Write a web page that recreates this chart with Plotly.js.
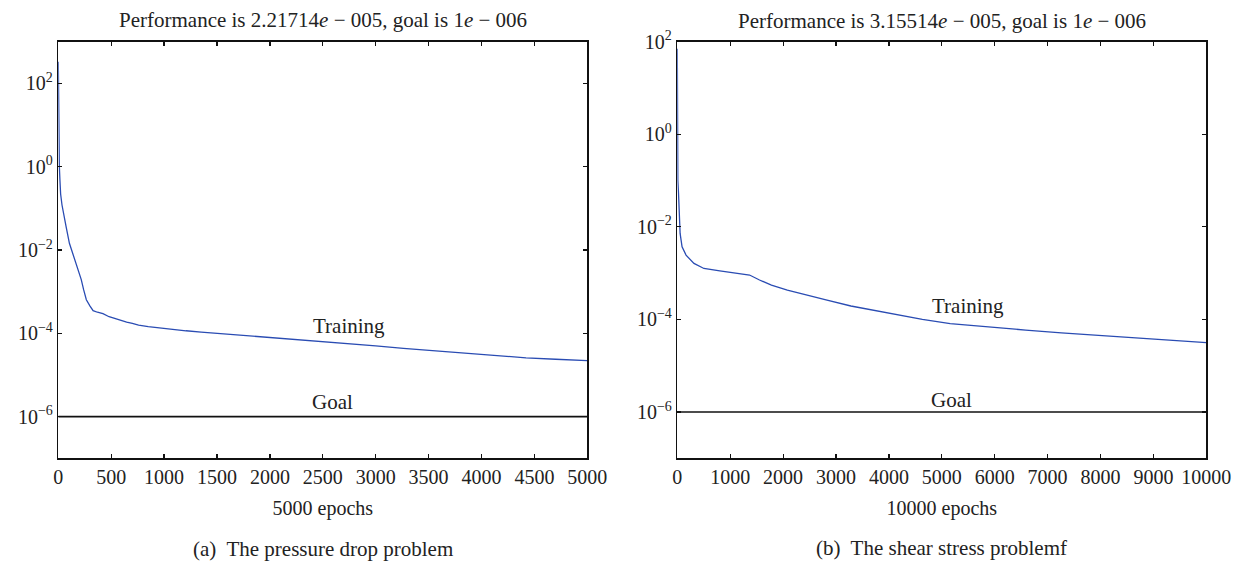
<!DOCTYPE html>
<html>
<head>
<meta charset="utf-8">
<script src="https://cdn.plot.ly/plotly-3.0.1.min.js"></script>
<style>html,body{margin:0;padding:0;background:#fff;}#chart{width:1243px;height:561px;}</style>
</head>
<body>
<div id="chart"></div>
<script>
// Panel (a): pressure drop problem
const epochsA = [0, 1, 3, 6, 10, 15, 22, 35, 49, 75, 105, 135, 161, 190, 217, 240, 265, 300, 329, 370, 422, 480, 534, 600, 646, 700, 759, 850, 983, 1100, 1207, 1350, 1506, 1805, 2067, 2403, 2664, 3000, 3262, 3561, 3860, 4122, 4421, 4700, 5000];
const perfA = [330, 60, 10, 3, 1, 0.5, 0.22, 0.12, 0.074, 0.035, 0.0145, 0.0085, 0.0058, 0.0033, 0.00195, 0.0011, 0.00064, 0.00045, 0.00035, 0.00032, 0.000295, 0.00025, 0.000224, 0.0002, 0.000186, 0.000172, 0.000158, 0.000145, 0.000132, 0.000122, 0.000115, 0.000107, 0.0001, 0.0000871, 0.0000759, 0.0000661, 0.0000603, 0.0000501, 0.0000437, 0.000038, 0.0000339, 0.0000288, 0.0000257, 0.0000238, 0.0000221714];
// Panel (b): shear stress problem
const epochsB = [0, 1, 2, 5, 10, 23, 38, 53, 90, 165, 315, 503, 803, 1104, 1366, 1554, 1779, 2080, 2455, 2830, 3281, 3731, 4182, 4632, 5158, 5833, 6584, 7260, 7935, 8611, 9362, 10000];
const perfB = [70, 5, 0.74, 0.2, 0.1, 0.052, 0.0138, 0.0072, 0.0037, 0.00245, 0.00162, 0.00126, 0.00112, 0.00102, 0.00091, 0.00071, 0.00055, 0.00043, 0.00034, 0.00026, 0.000195, 0.000155, 0.000123, 0.0001, 0.0000813, 0.0000692, 0.0000589, 0.0000513, 0.0000457, 0.0000407, 0.0000362, 0.0000315514];
const goal = 1e-6;
const maxEpochA = 5000, maxEpochB = 10000;
const yTickVals = [1e-6, 1e-4, 1e-2, 1, 1e2];
const yTickText = ['10<sup>−6</sup>', '10<sup>−4</sup>', '10<sup>−2</sup>', '10<sup>0</sup>', '10<sup>2</sup>'];
const titleA = 'Performance is 2.21714<i>e</i> − 005, goal is 1<i>e</i> − 006';
const titleB = 'Performance is 3.15514<i>e</i> − 005, goal is 1<i>e</i> − 006';
const xTitleA = '5000 epochs', xTitleB = '10000 epochs';
const captionA = '(a)  The pressure drop problem', captionB = '(b)  The shear stress problemf';

const FONT = 'Liberation Serif, Times New Roman, serif';
const BLUE = '#2a4cb3';
const TXT = '#222';

const traces = [
  {x: epochsA, y: perfA, xaxis: 'x', yaxis: 'y', mode: 'lines', line: {color: BLUE, width: 1.3}, hoverinfo: 'skip'},
  {x: [0, maxEpochA], y: [goal, goal], xaxis: 'x', yaxis: 'y', mode: 'lines', line: {color: '#111', width: 1.6}, hoverinfo: 'skip'},
  {x: epochsB, y: perfB, xaxis: 'x2', yaxis: 'y2', mode: 'lines', line: {color: BLUE, width: 1.3}, hoverinfo: 'skip'},
  {x: [0, maxEpochB], y: [goal, goal], xaxis: 'x2', yaxis: 'y2', mode: 'lines', line: {color: '#111', width: 1.6}, hoverinfo: 'skip'}
];

const axisCommon = {
  showgrid: false, zeroline: false, showline: true, linecolor: '#111', linewidth: 1.5,
  mirror: 'ticks', ticks: 'inside', ticklen: 4, tickwidth: 1.2, tickcolor: '#111',
  tickfont: {family: FONT, size: 20, color: TXT}
};
const yDom = [0.1831, 0.9257];

const layout = {
  width: 1243, height: 561,
  margin: {l: 0, r: 0, t: 0, b: 0},
  paper_bgcolor: '#fff', plot_bgcolor: '#fff',
  showlegend: false,
  font: {family: FONT, size: 20, color: TXT},
  xaxis: Object.assign({}, axisCommon, {domain: [0.0469, 0.4725], range: [0, maxEpochA], dtick: 500, tick0: 0, tickformat: 'd', anchor: 'y',
    title: {text: xTitleA, font: {family: FONT, size: 20, color: TXT}, standoff: 14}}),
  yaxis: Object.assign({}, axisCommon, {domain: yDom, type: 'log', range: [-7, 3], tickmode: 'array', tickvals: yTickVals, ticktext: yTickText, anchor: 'x'}),
  xaxis2: Object.assign({}, axisCommon, {domain: [0.5449, 0.9705], range: [0, maxEpochB], dtick: 1000, tick0: 0, tickformat: 'd', anchor: 'y2',
    title: {text: xTitleB, font: {family: FONT, size: 20, color: TXT}, standoff: 14}}),
  yaxis2: Object.assign({}, axisCommon, {domain: yDom, type: 'log', range: [-7, 2], tickmode: 'array', tickvals: yTickVals, ticktext: yTickText, anchor: 'x2'}),
  annotations: [
    {text: titleA, xref: 'paper', yref: 'paper', x: 0.2597, y: (561 - 20) / 561, xanchor: 'center', yanchor: 'middle', showarrow: false, font: {family: FONT, size: 21, color: TXT}},
    {text: titleB, xref: 'paper', yref: 'paper', x: 0.7577, y: (561 - 21) / 561, xanchor: 'center', yanchor: 'middle', showarrow: false, font: {family: FONT, size: 21, color: TXT}},
    {text: 'Training', xref: 'x', yref: 'y', x: 2747, y: -3.82, showarrow: false, font: {family: FONT, size: 21, color: TXT}},
    {text: 'Goal', xref: 'x', yref: 'y', x: 2590, y: -5.66, showarrow: false, font: {family: FONT, size: 21, color: TXT}},
    {text: 'Training', xref: 'x2', yref: 'y2', x: 5495, y: -3.71, showarrow: false, font: {family: FONT, size: 21, color: TXT}},
    {text: 'Goal', xref: 'x2', yref: 'y2', x: 5188, y: -5.74, showarrow: false, font: {family: FONT, size: 21, color: TXT}},
    {text: captionA, xref: 'paper', yref: 'paper', x: 0.2597, y: (561 - 549) / 561, xanchor: 'center', yanchor: 'middle', showarrow: false, font: {family: FONT, size: 21, color: TXT}},
    {text: captionB, xref: 'paper', yref: 'paper', x: 0.7577, y: (561 - 548) / 561, xanchor: 'center', yanchor: 'middle', showarrow: false, font: {family: FONT, size: 21, color: TXT}}
  ]
};

Plotly.newPlot('chart', traces, layout, {staticPlot: true, displayModeBar: false});
</script>
</body>
</html>
